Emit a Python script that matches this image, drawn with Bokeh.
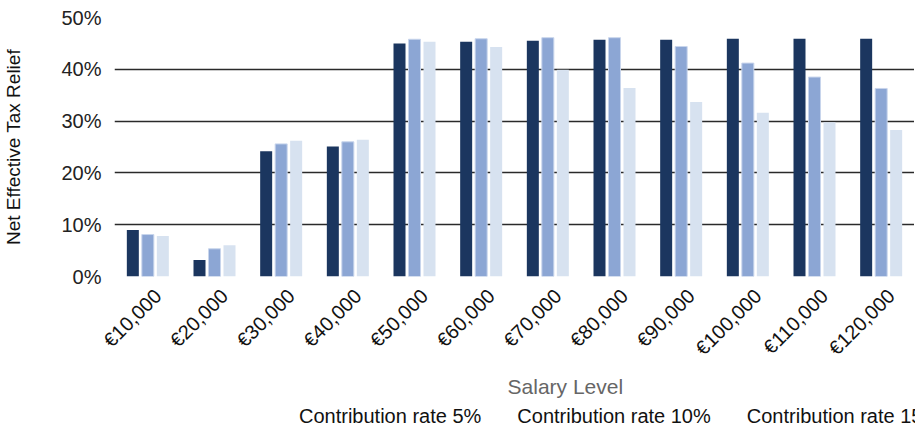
from bokeh.plotting import figure
from bokeh.layouts import column
from bokeh.models import ColumnDataSource, Range1d, Legend, LegendItem, PrintfTickFormatter, FixedTicker
from bokeh.core.properties import value
from bokeh.embed import file_html
from bokeh.resources import INLINE
import math

salaries = ["€10,000", "€20,000", "€30,000", "€40,000", "€50,000", "€60,000",
            "€70,000", "€80,000", "€90,000", "€100,000", "€110,000", "€120,000"]
rate_5 = [9.0, 3.2, 24.2, 25.1, 45.0, 45.3, 45.5, 45.7, 45.7, 45.9, 45.9, 45.9]
rate_10 = [8.1, 5.35, 25.6, 26.0, 45.8, 45.9, 46.1, 46.1, 44.4, 41.2, 38.5, 36.3]
rate_15 = [7.8, 6.05, 26.2, 26.4, 45.3, 44.3, 39.9, 36.4, 33.7, 31.6, 29.8, 28.3]
series_names = ["Contribution rate 5%", "Contribution rate 10%", "Contribution rate 15%"]
series_colors = ["#1b365f", "#8ca6d4", "#d7e2f0"]
y_ticks = [0, 10, 20, 30, 40, 50]
x_title = "Salary Level"

FONT = "Liberation Sans"

n = len(salaries)
centers = [i + 0.5 for i in range(n)]
bw = 0.18
off = 0.225
label_shift = 0.15

src = ColumnDataSource(dict(
    x5=[c - off for c in centers], x10=centers, x15=[c + off for c in centers],
    r5=rate_5, r10=rate_10, r15=rate_15))

p = figure(frame_width=800, frame_height=259, output_backend="svg", toolbar_location=None,
           x_range=Range1d(0, n), y_range=Range1d(0, 50))
p.min_border_left = 8
p.min_border_right = 0
p.min_border_top = 17
p.min_border_bottom = 0
p.outline_line_color = None
p.background_fill_color = "white"
p.border_fill_color = "white"

p.vbar(x="x5", top="r5", width=bw, source=src, fill_color=series_colors[0], line_color=None)
p.vbar(x="x10", top="r10", width=bw, source=src,
       fill_color=series_colors[1], line_color="#c8d5ec", line_width=1)
p.vbar(x="x15", top="r15", width=bw, source=src, fill_color=series_colors[2], line_color=None)

# grid
p.xgrid.grid_line_color = None
p.ygrid.grid_line_color = "#2a2a2a"
p.ygrid.grid_line_width = 1.3
p.ygrid.ticker = FixedTicker(ticks=y_ticks)

# y axis
p.yaxis.ticker = FixedTicker(ticks=y_ticks)
p.yaxis.formatter = PrintfTickFormatter(format="%d%%")
p.yaxis.axis_line_color = None
p.yaxis.major_tick_line_color = None
p.yaxis.minor_tick_line_color = None
p.yaxis.major_tick_in = 0
p.yaxis.major_tick_out = 0
p.yaxis.major_label_text_font = FONT
p.yaxis.major_label_text_font_size = "20px"
p.yaxis.major_label_text_color = "#222222"
p.yaxis.major_label_standoff = 13
p.yaxis.axis_label = "Net Effective Tax Relief"
p.yaxis.axis_label_text_font = FONT
p.yaxis.axis_label_text_font_size = "19px"
p.yaxis.axis_label_text_font_style = "normal"
p.yaxis.axis_label_text_color = "#111111"
p.yaxis.axis_label_standoff = 34

# x axis: category labels at (slightly shifted) category centres
tick_pos = [c + label_shift for c in centers]
p.xaxis.ticker = FixedTicker(ticks=tick_pos, minor_ticks=[])
p.xaxis.major_label_overrides = {t: s for t, s in zip(tick_pos, salaries)}
p.xaxis.axis_line_color = None
p.xaxis.major_tick_line_color = None
p.xaxis.minor_tick_line_color = None
p.xaxis.major_tick_in = 0
p.xaxis.major_tick_out = 0
p.xaxis.major_label_orientation = math.pi / 4
p.xaxis.major_label_text_font = FONT
p.xaxis.major_label_text_font_size = "20px"
p.xaxis.major_label_text_color = "#111111"
p.xaxis.major_label_standoff = 16

# second strip: x-axis title and legend
strip_w, strip_h = 915, 58
p2 = figure(width=strip_w, height=strip_h, output_backend="svg", toolbar_location=None,
            x_range=Range1d(0, strip_w), y_range=Range1d(0, strip_h),
            x_axis_location=None, y_axis_location=None)
p2.min_border = 0
p2.min_border_left = 0
p2.min_border_right = 0
p2.min_border_top = 0
p2.min_border_bottom = 0
p2.outline_line_color = None
p2.xgrid.grid_line_color = None
p2.ygrid.grid_line_color = None
p2.background_fill_color = "white"
p2.border_fill_color = "white"

p2.text(x=[115 + 400], y=[strip_h - 16], text=[x_title], text_align="center",
        text_baseline="middle", text_font=value(FONT), text_font_size=value("21px"),
        text_color="#666666")

dummy = []
for c in series_colors:
    dummy.append(p2.vbar(x=[], top=[], width=1, fill_color=c, line_color=None))

legend = Legend(items=[LegendItem(label=nm, renderers=[r]) for nm, r in zip(series_names, dummy)],
                orientation="horizontal", location=(166, 0))
legend.label_text_font = FONT
legend.label_text_font_size = "20px"
legend.label_text_color = "#111111"
legend.glyph_width = 14
legend.glyph_height = 14
legend.label_standoff = 5
legend.spacing = 17
legend.padding = 0
legend.margin = 0
legend.border_line_color = None
legend.background_fill_alpha = 0
p2.add_layout(legend, "center")

layout = column(p, p2, spacing=0)
open("out.html", "w").write(file_html(layout, INLINE))
